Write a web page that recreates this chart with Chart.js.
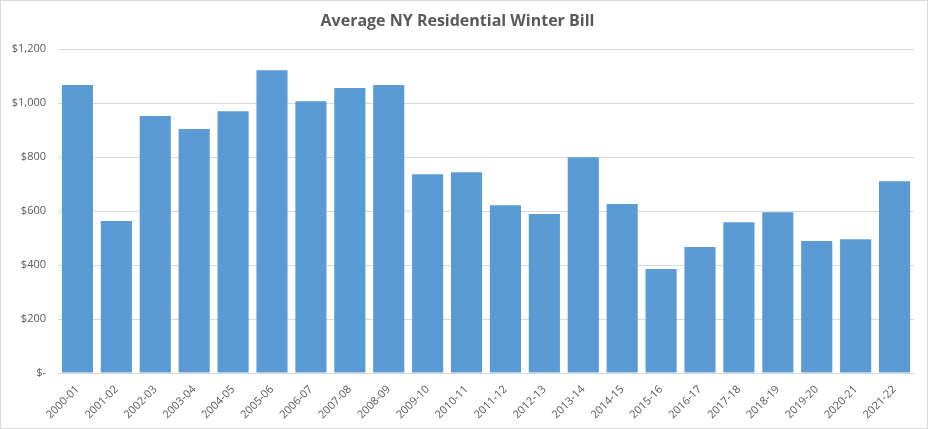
<!DOCTYPE html>
<html>
<head>
    <title>Average NY Residential Winter Bill</title>
    <script src="https://cdn.jsdelivr.net/npm/chart.js"></script>
    <style>
        body {margin: 0; background: #fff;}
        #chartBox {width: 928px; height: 429px; box-sizing: border-box; border: 1px solid #d9d9d9;}
    </style>
</head>
<body>
    <div id="chartBox">
        <canvas id="myChart"></canvas>
    </div>
    <script>
        var seasons = ['2000-01', '2001-02', '2002-03', '2003-04', '2004-05', '2005-06', '2006-07', '2007-08',
            '2008-09', '2009-10', '2010-11', '2011-12', '2012-13', '2013-14', '2014-15', '2015-16',
            '2016-17', '2017-18', '2018-19', '2019-20', '2020-21', '2021-22'];
        var avgBill = [1067, 563, 952, 904, 970, 1122, 1007, 1056,
            1067, 737, 744, 622, 589, 800, 626, 385,
            467, 559, 596, 489, 496, 711];
        var yTicks = [0, 200, 400, 600, 800, 1000, 1200];

        var fontName = "'Open Sans', 'Liberation Sans', sans-serif";
        var grey = '#595959';

        var ctx = document.getElementById('myChart').getContext('2d');
        new Chart(ctx, {
            type: 'bar',
            data: {
                labels: seasons,
                datasets: [{
                    label: 'Average bill',
                    data: avgBill,
                    backgroundColor: '#5b9bd5',
                    barPercentage: 0.8,
                    categoryPercentage: 1.0
                }]
            },
            options: {
                responsive: true,
                maintainAspectRatio: false,
                animation: false,
                layout: {padding: {left: 0, right: 13, top: 0, bottom: 0}},
                plugins: {
                    legend: {display: false},
                    tooltip: {enabled: false},
                    title: {
                        display: true,
                        text: 'Average NY Residential Winter Bill',
                        color: grey,
                        font: {family: fontName, size: 16, weight: 'bold'},
                        padding: {top: 11, bottom: 18}
                    }
                },
                scales: {
                    y: {
                        min: 0,
                        max: 1200,
                        afterBuildTicks: function(axis) {
                            axis.ticks = yTicks.map(function(v) { return {value: v}; });
                        },
                        afterFit: function(axis) { axis.width = 57; },
                        border: {display: false},
                        grid: {color: '#d9d9d9', drawTicks: false},
                        ticks: {
                            color: grey,
                            padding: 12,
                            font: {family: fontName, size: 11},
                            callback: function(v) {
                                return v === 0 ? '$-' : '$' + v.toLocaleString('en-US');
                            }
                        }
                    },
                    x: {
                        afterFit: function(axis) { axis.height = 55; },
                        border: {color: '#d9d9d9'},
                        grid: {display: false},
                        ticks: {
                            color: grey,
                            minRotation: 45,
                            maxRotation: 45,
                            padding: 2,
                            font: {family: fontName, size: 11}
                        }
                    }
                }
            }
        });
    </script>
</body>
</html>
